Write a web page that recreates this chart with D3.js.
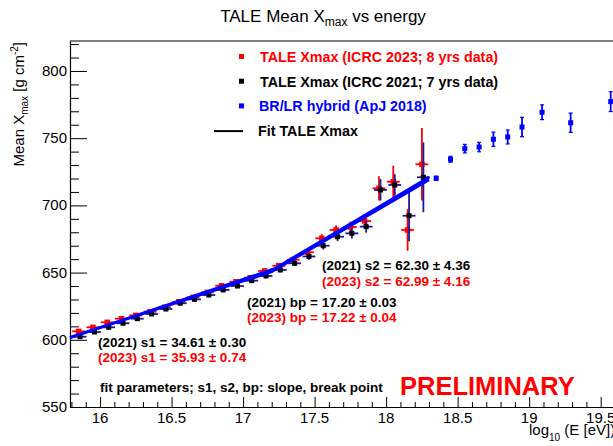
<!DOCTYPE html>
<html>
<head>
<meta charset="utf-8">
<script src="https://cdn.jsdelivr.net/npm/d3@7"></script>
<style>
  body { margin: 0; background: #fff; }
  svg { display: block; font-family: 'Liberation Sans', Arial, sans-serif; }
</style>
</head>
<body>
<div class="container"></div>
<script>
// TALE bins (log10 E)
const taleBins = [15.85, 15.95, 16.05, 16.15, 16.25, 16.35, 16.45, 16.55, 16.65, 16.75,
    16.85, 16.95, 17.05, 17.15, 17.25, 17.35, 17.45, 17.55, 17.65, 17.75,
    17.85, 17.95, 18.05, 18.15, 18.25]

// ICRC 2023, 8 yrs
const xmax2023 = [606.3, 609.3, 613.0, 615.7, 618.2, 620.9, 624.2, 628.3, 631.6, 635.3,
    640.2, 643.2, 646.2, 651.2, 655.1, 659.6, 665.1, 675.5, 681.7, 683.9,
    688.4, 712.7, 717.6, 681.7, 730.6]
const err2023 = [1.6, 1.4, 1.3, 1.2, 1.2, 1.2, 1.2, 1.2, 1.3, 1.3,
    1.4, 1.5, 1.6, 1.8, 2.0, 2.2, 2.5, 3.0, 3.5, 4.0,
    5.0, 9.0, 12.0, 15.5, 27.0]

// ICRC 2021, 7 yrs
const xmax2021 = [602.3, 605.8, 609.3, 612.3, 615.7, 619.2, 622.9, 627.2, 630.1, 633.3,
    637.1, 640.0, 644.0, 647.5, 652.0, 656.9, 662.0, 670.0, 676.7, 679.2,
    684.2, 711.5, 715.2, 692.3, 720.9]
const err2021 = [1.5, 1.4, 1.3, 1.2, 1.2, 1.2, 1.2, 1.2, 1.2, 1.3,
    1.3, 1.4, 1.5, 1.7, 1.9, 2.1, 2.4, 2.8, 3.3, 3.8,
    4.5, 8.0, 8.0, 19.0, 26.0]

// BR/LR hybrid (ApJ 2018)
const hybridE = [18.35, 18.45, 18.55, 18.65, 18.75, 18.85, 18.95, 19.09, 19.29, 19.57]
const hybridXmax = [720.2, 734.3, 742.2, 743.4, 749.2, 750.9, 758.3, 769.3, 761.5, 777.2]
const hybridErr = [1.5, 2.2, 3.2, 3.5, 5.3, 5.2, 7.2, 5.5, 7.2, 7.4]

// broken-line fits (nodes)
const fit2021E = [15.79, 17.20, 18.30]
const fit2021Xmax = [601.8, 650.6, 719.1]
const fit2023E = [15.79, 17.22, 18.30]
const fit2023Xmax = [601.5, 652.9, 720.9]

const xTicks = [16, 16.5, 17, 17.5, 18, 18.5, 19, 19.5]
const yTicks = [550, 600, 650, 700, 750, 800]

const legendItems = [
    {label: 'TALE Xmax (ICRC 2023; 8 yrs data)', color: '#ff0000', kind: 'box'},
    {label: 'TALE Xmax (ICRC 2021; 7 yrs data)', color: '#000000', kind: 'box'},
    {label: 'BR/LR hybrid (ApJ 2018)', color: '#0000ff', kind: 'box'},
    {label: 'Fit TALE Xmax', color: '#000000', kind: 'line'}
]

const fitNotes = [
    {x: 322, y: 270, text: '(2021) s2 = 62.30 ± 4.36', color: '#000'},
    {x: 322, y: 286, text: '(2023) s2 = 62.99 ± 4.16', color: '#ff0000'},
    {x: 247, y: 307, text: '(2021) bp = 17.20 ± 0.03', color: '#000'},
    {x: 247, y: 322, text: '(2023) bp = 17.22 ± 0.04', color: '#ff0000'},
    {x: 98, y: 347, text: '(2021) s1 = 34.61 ± 0.30', color: '#000'},
    {x: 98, y: 362, text: '(2023) s1 = 35.93 ± 0.74', color: '#ff0000'}
]

const width = 613
const height = 446

const svg = d3.select('.container')
    .append('svg')
    .attr('width', width)
    .attr('height', height)

const xScale = d3.scaleLinear()
    .domain([15.79, 19.6])
    .range([70, 615])

const yScale = d3.scaleLinear()
    .domain([550, 822.3])
    .range([407, 41])

// frame
svg.append('line')
    .attr('x1', 70).attr('x2', 615)
    .attr('y1', 41).attr('y2', 41)
    .attr('stroke', '#000').attr('stroke-width', 1)

// axes, ticks pointing inside like ROOT
const xAxis = svg.append('g')
    .attr('transform', 'translate(0, 407)')
    .call(d3.axisBottom(xScale).tickValues(d3.range(15.8, 19.61, 0.1)).tickSize(0).tickFormat(''))
xAxis.select('.domain').attr('stroke-width', 1.2)
xAxis.selectAll('.tick line')
    .attr('y2', (d) => xTicks.some((t) => Math.abs(t - d) < 1e-6) ? -10 : -5)
    .attr('stroke', '#000')
svg.append('g')
    .selectAll('text')
    .data(xTicks)
    .enter()
    .append('text')
    .attr('x', (d) => xScale(d))
    .attr('y', 423)
    .attr('text-anchor', 'middle')
    .attr('font-size', '15px')
    .text((d) => d)

const yAxis = svg.append('g')
    .attr('transform', 'translate(70, 0)')
    .call(d3.axisLeft(yScale).tickValues(d3.range(550, 821, 10)).tickSize(0).tickFormat(''))
yAxis.select('.domain').attr('stroke-width', 1.2)
yAxis.selectAll('.tick line')
    .attr('x2', (d) => d % 50 === 0 ? 17 : 9)
    .attr('stroke', '#000')
svg.append('g')
    .selectAll('text')
    .data(yTicks)
    .enter()
    .append('text')
    .attr('x', 67)
    .attr('y', (d) => yScale(d) + 5)
    .attr('text-anchor', 'end')
    .attr('font-size', '15px')
    .text((d) => d)

// titles
const title = svg.append('text')
    .attr('x', 323)
    .attr('y', 22)
    .attr('text-anchor', 'middle')
    .attr('font-size', '17px')
title.append('tspan').text('TALE Mean X')
title.append('tspan').attr('font-size', '12px').attr('dy', 4).text('max')
title.append('tspan').attr('dy', -4).text(' vs energy')

const yLabel = svg.append('text')
    .attr('transform', 'translate(24, 42) rotate(-90)')
    .attr('text-anchor', 'end')
    .attr('font-size', '15px')
yLabel.append('tspan').text('Mean X')
yLabel.append('tspan').attr('font-size', '10px').attr('dy', 4).text('max')
yLabel.append('tspan').attr('dy', -4).text(' [g cm')
yLabel.append('tspan').attr('font-size', '10px').attr('dy', -6).text('-2')
yLabel.append('tspan').attr('dy', 6).text(']')

const xLabel = svg.append('text')
    .attr('x', 529)
    .attr('y', 435)
    .attr('font-size', '15px')
xLabel.append('tspan').text('log')
xLabel.append('tspan').attr('font-size', '10px').attr('dy', 6).text('10')
xLabel.append('tspan').attr('dy', -6).text(' (E [eV])')

// data
function drawSeries(xs, ys, es, markColor, barColor, size, halfW, dx) {
    const g = svg.append('g')
    const rows = xs.map((x, i) => ({x: x, y: ys[i], e: es[i]}))
    g.selectAll('line.v')
        .data(rows)
        .enter()
        .append('line')
        .attr('x1', (d) => xScale(d.x) + dx)
        .attr('x2', (d) => xScale(d.x) + dx)
        .attr('y1', (d) => yScale(d.y - d.e))
        .attr('y2', (d) => yScale(d.y + d.e))
        .attr('stroke', barColor)
        .attr('stroke-width', 1.8)
    if (halfW > 0) {
        g.selectAll('line.h')
            .data(rows)
            .enter()
            .append('line')
            .attr('x1', (d) => xScale(d.x - halfW) + dx)
            .attr('x2', (d) => xScale(d.x + halfW) + dx)
            .attr('y1', (d) => yScale(d.y))
            .attr('y2', (d) => yScale(d.y))
            .attr('stroke', barColor)
            .attr('stroke-width', 1.8)
    }
    g.selectAll('rect')
        .data(rows)
        .enter()
        .append('rect')
        .attr('x', (d) => xScale(d.x) + dx - size / 2)
        .attr('y', (d) => yScale(d.y) - size / 2)
        .attr('width', size)
        .attr('height', size)
        .attr('fill', markColor)
    return g
}

drawSeries(taleBins, xmax2023, err2023, '#ff0000', '#ff0000', 5.5, 0.045, 0)
drawSeries(taleBins, xmax2021, err2021, '#000000', '#1a1a9c', 5, 0.045, 1.5)

const fitLine = d3.line()
    .x((d) => xScale(d[0]))
    .y((d) => yScale(d[1]))
svg.append('path')
    .attr('d', fitLine(fit2021E.map((e, i) => [e, fit2021Xmax[i]])))
    .attr('fill', 'none')
    .attr('stroke', '#0000ff')
    .attr('stroke-width', 2.8)
svg.append('path')
    .attr('d', fitLine(fit2023E.map((e, i) => [e, fit2023Xmax[i]])))
    .attr('fill', 'none')
    .attr('stroke', '#0000ff')
    .attr('stroke-width', 2.8)

const hyb = drawSeries(hybridE, hybridXmax, hybridErr, '#0000ff', '#0000ff', 5, 0, 0)
hyb.selectAll('line.cap')
    .data(hybridE.map((x, i) => [x, hybridXmax[i] - hybridErr[i]]).concat(hybridE.map((x, i) => [x, hybridXmax[i] + hybridErr[i]])))
    .enter()
    .append('line')
    .attr('x1', (d) => xScale(d[0]) - 2)
    .attr('x2', (d) => xScale(d[0]) + 2)
    .attr('y1', (d) => yScale(d[1]))
    .attr('y2', (d) => yScale(d[1]))
    .attr('stroke', '#0000ff')
    .attr('stroke-width', 1.2)

// legend
const legend = svg.append('g')
legendItems.forEach((item, i) => {
    const ly = 57 + i * 24.7
    if (item.kind === 'box') {
        legend.append('rect')
            .attr('x', 239).attr('y', ly - 3)
            .attr('width', 5).attr('height', 5)
            .attr('fill', item.color)
    } else {
        legend.append('line')
            .attr('x1', 214).attr('x2', 243)
            .attr('y1', ly).attr('y2', ly)
            .attr('stroke', item.color).attr('stroke-width', 2)
    }
    legend.append('text')
        .attr('x', item.kind === 'box' ? 260 - (i === 2 ? 1 : 0) : 258)
        .attr('y', ly + 5)
        .attr('font-size', '14.3px')
        .attr('font-weight', 'bold')
        .attr('fill', item.color)
        .text(item.label)
})

// fit notes
svg.append('g')
    .selectAll('text')
    .data(fitNotes)
    .enter()
    .append('text')
    .attr('x', (d) => d.x)
    .attr('y', (d) => d.y)
    .attr('font-size', '13.5px')
    .attr('font-weight', 'bold')
    .attr('fill', (d) => d.color)
    .text((d) => d.text)

svg.append('text')
    .attr('x', 100)
    .attr('y', 392)
    .attr('font-size', '13.5px')
    .attr('font-weight', 'bold')
    .text('fit parameters; s1, s2, bp: slope, break point')

svg.append('text')
    .attr('x', 400)
    .attr('y', 395)
    .attr('font-size', '25.5px')
    .attr('font-weight', 'bold')
    .attr('fill', '#ff0000')
    .text('PRELIMINARY')
</script>
</body>
</html>
